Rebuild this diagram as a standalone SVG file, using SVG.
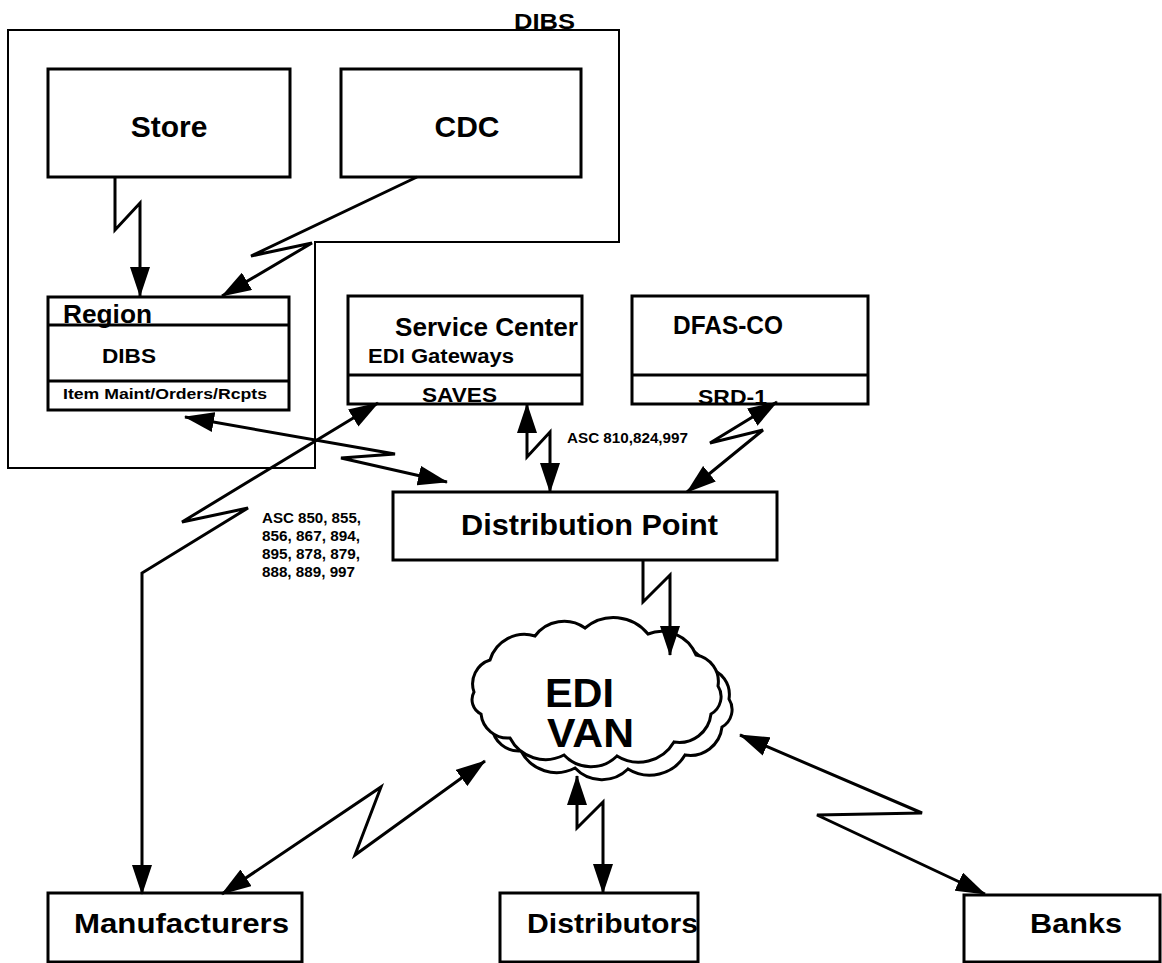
<svg xmlns="http://www.w3.org/2000/svg" width="1162" height="963" viewBox="0 0 1162 963">
<style>
  .bx { fill: #fff; stroke: #000; stroke-width: 3; }
  .ln { stroke: #000; stroke-width: 3; fill: none; }
  .grp { fill: none; stroke: #000; stroke-width: 2; }
  .cn { fill: none; stroke: #000; stroke-width: 3; stroke-linejoin: miter; marker-end: url(#ah); }
  .cn2 { fill: none; stroke: #000; stroke-width: 3; stroke-linejoin: miter; marker-start: url(#ah); marker-end: url(#ah); }
  text { font-family: "Liberation Sans", Arial, Helvetica, sans-serif; font-weight: bold; fill: #000; }
  .cl { fill: #fff; stroke: #000; stroke-width: 3; }
</style>
<defs>
  <marker id="ah" viewBox="0 0 30 20" refX="29" refY="10" markerWidth="30" markerHeight="20" markerUnits="userSpaceOnUse" orient="auto-start-reverse">
    <path d="M0,0 L30,10 L0,20 z" fill="#000"/>
  </marker>
  <path id="cloud" d="M474,692 A25,25 0 0,1 490,660 A36,36 0 0,1 535,636 A36,36 0 0,1 585,628 A44,44 0 0,1 648,634 A37,37 0 0,1 696,655 A27,27 0 0,1 718,686 A20,20 0 0,1 711,714 A32,32 0 0,1 674,742 A41,41 0 0,1 617,756 A37,37 0 0,1 564,755 A40,40 0 0,1 510,738 A27,27 0 0,1 481,714 A16,16 0 0,1 474,692 Z"/>
</defs>
<rect width="1162" height="963" fill="#fff"/>

<g id="dibs-group">
  <polygon class="grp" points="8,30 619,30 619,242 315,242 315,468 8,468"/>
  <text x="514" y="29" font-size="22" textLength="61" lengthAdjust="spacingAndGlyphs">DIBS</text>
</g>

<g id="store">
  <rect class="bx" x="48" y="69" width="242" height="108"/>
  <text x="169" y="137" font-size="30" text-anchor="middle">Store</text>
</g>

<g id="cdc">
  <rect class="bx" x="341" y="69" width="240" height="108"/>
  <text x="467" y="137" font-size="30" text-anchor="middle">CDC</text>
</g>

<g id="region">
  <rect class="bx" x="48" y="297" width="241" height="113"/>
  <line class="ln" x1="48" y1="325" x2="289" y2="325"/>
  <line class="ln" x1="48" y1="381" x2="289" y2="381"/>
  <text x="63" y="323" font-size="25" textLength="89" lengthAdjust="spacingAndGlyphs">Region</text>
  <text x="102" y="363" font-size="21" textLength="54" lengthAdjust="spacingAndGlyphs">DIBS</text>
  <text x="63" y="399" font-size="15" textLength="204" lengthAdjust="spacingAndGlyphs">Item Maint/Orders/Rcpts</text>
</g>

<g id="service-center">
  <rect class="bx" x="348" y="296" width="234" height="108"/>
  <line class="ln" x1="348" y1="375" x2="582" y2="375"/>
  <text x="395" y="336" font-size="26" textLength="183" lengthAdjust="spacingAndGlyphs">Service Center</text>
  <text x="368" y="363" font-size="20" textLength="146" lengthAdjust="spacingAndGlyphs">EDI Gateways</text>
  <text x="422" y="402" font-size="21" textLength="75" lengthAdjust="spacingAndGlyphs">SAVES</text>
</g>

<g id="dfas-co">
  <rect class="bx" x="632" y="296" width="236" height="108"/>
  <line class="ln" x1="632" y1="375" x2="868" y2="375"/>
  <text x="673" y="334" font-size="25" textLength="110" lengthAdjust="spacingAndGlyphs">DFAS-CO</text>
  <text x="698" y="404" font-size="21" textLength="69" lengthAdjust="spacingAndGlyphs">SRD-1</text>
</g>

<g id="distribution-point">
  <rect class="bx" x="393" y="492" width="384" height="68"/>
  <text x="461" y="535" font-size="30" textLength="257" lengthAdjust="spacingAndGlyphs">Distribution Point</text>
</g>

<g id="edi-van">
  <use href="#cloud" class="cl" transform="translate(11,13)"/>
  <use href="#cloud" class="cl"/>
  <text x="545" y="707" font-size="40" textLength="69" lengthAdjust="spacingAndGlyphs">EDI</text>
  <text x="547" y="747" font-size="40" textLength="87" lengthAdjust="spacingAndGlyphs">VAN</text>
</g>

<g id="manufacturers">
  <rect class="bx" x="48" y="893" width="254" height="69"/>
  <text x="74" y="933" font-size="28" textLength="215" lengthAdjust="spacingAndGlyphs">Manufacturers</text>
</g>

<g id="distributors">
  <rect class="bx" x="500" y="893" width="198" height="69"/>
  <text x="527" y="933" font-size="28" textLength="171" lengthAdjust="spacingAndGlyphs">Distributors</text>
</g>

<g id="banks">
  <rect class="bx" x="964" y="895" width="196" height="67"/>
  <text x="1030" y="933" font-size="28" textLength="92" lengthAdjust="spacingAndGlyphs">Banks</text>
</g>

<g id="labels">
  <text x="567" y="443" font-size="14" textLength="121" lengthAdjust="spacingAndGlyphs">ASC 810,824,997</text>
  <text x="262" y="523" font-size="14" textLength="99" lengthAdjust="spacingAndGlyphs">ASC 850, 855,</text>
  <text x="262" y="541" font-size="14" textLength="98" lengthAdjust="spacingAndGlyphs">856, 867, 894,</text>
  <text x="262" y="559" font-size="14" textLength="98" lengthAdjust="spacingAndGlyphs">895, 878, 879,</text>
  <text x="262" y="577" font-size="14" textLength="93" lengthAdjust="spacingAndGlyphs">888, 889, 997</text>
</g>

<g id="connectors">
  <path class="cn" d="M115,177 L115,230 L140,203 L140,296"/>
  <path class="cn" d="M417,177 L251,256 L312,243 L222,296"/>
  <path class="cn2" d="M185,417 L395,454 L341,458 L447,482"/>
  <path class="cn2" d="M378,403 L182,522 L248,508 L142,573 L142,894"/>
  <path class="cn2" d="M527,404 L527,457 L550,432 L550,492"/>
  <path class="cn2" d="M777,402 L710,443 L763,430 L687,492"/>
  <path class="cn" d="M643,560 L643,602 L670,575 L670,655"/>
  <path class="cn2" d="M485,761 L355,855 L381,787 L222,894"/>
  <path class="cn2" d="M577,776 L577,828 L603,802 L603,893"/>
  <path class="cn2" d="M740,735 L922,813 L817,815 L985,894"/>
</g>
</svg>
